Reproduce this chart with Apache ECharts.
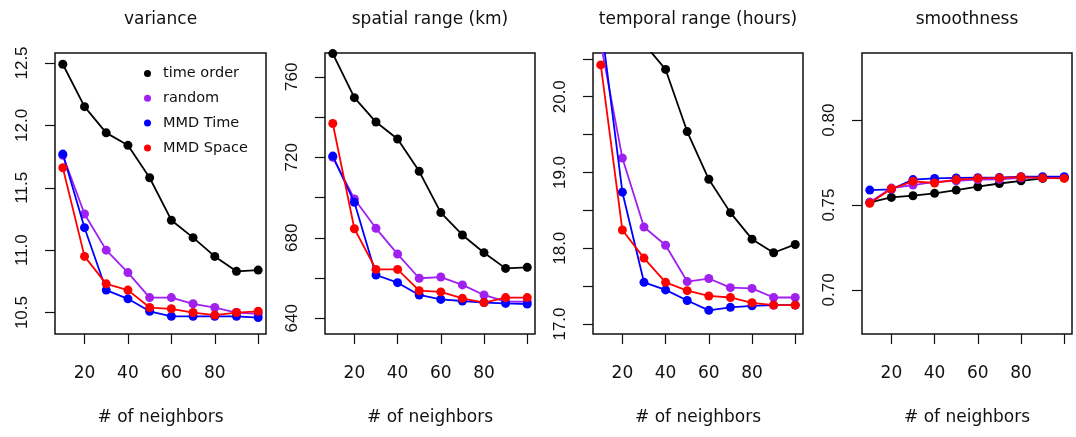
<!DOCTYPE html>
<html><head><meta charset="utf-8">
<script src="https://cdn.jsdelivr.net/npm/echarts@6/dist/echarts.min.js"></script>
<style>html,body{margin:0;padding:0;background:#fff}#c{width:1076px;height:437px}</style>
</head><body><div id="c"></div>
<script>
// ---- data ----
const neighbors = [10, 20, 30, 40, 50, 60, 70, 80, 90, 100];
const seriesNames = ['time order', 'random', 'MMD Time', 'MMD Space'];
const panelTitles = ['variance', 'spatial range (km)', 'temporal range (hours)', 'smoothness'];
const xAxisName = '# of neighbors';
const xTickValues = [20, 40, 60, 80, 100];
const xLabelValues = [20, 40, 60, 80];

const varianceTime   = [12.49, 12.15, 11.94, 11.84, 11.58, 11.24, 11.10, 10.95, 10.83, 10.84];
const varianceRandom = [11.76, 11.29, 11.00, 10.82, 10.62, 10.62, 10.57, 10.54, 10.50, 10.49];
const varianceMmdTime  = [11.77, 11.18, 10.68, 10.61, 10.51, 10.47, 10.47, 10.47, 10.47, 10.46];
const varianceMmdSpace = [11.66, 10.95, 10.73, 10.68, 10.54, 10.53, 10.50, 10.48, 10.50, 10.51];

const spatialTime   = [771.5, 749.6, 737.5, 729.1, 713.0, 692.5, 681.4, 672.6, 664.8, 665.3];
const spatialRandom = [720.0, 699.3, 684.7, 671.9, 659.9, 660.5, 656.6, 651.6, 648.3, 648.3];
const spatialMmdTime  = [720.6, 697.6, 661.5, 657.7, 651.6, 649.4, 648.6, 647.8, 647.4, 647.1];
const spatialMmdSpace = [736.8, 684.5, 664.3, 664.3, 653.7, 653.1, 649.9, 647.8, 650.3, 650.3];

const temporalTime   = [21.6, 21.0, 20.70, 20.36, 19.54, 18.91, 18.47, 18.12, 17.94, 18.05];
const temporalRandom = [20.7, 19.19, 18.28, 18.04, 17.56, 17.60, 17.48, 17.47, 17.35, 17.35];
const temporalMmdTime  = [21.0, 18.74, 17.55, 17.45, 17.31, 17.18, 17.22, 17.24, 17.25, 17.25];
const temporalMmdSpace = [20.42, 18.24, 17.87, 17.55, 17.44, 17.37, 17.35, 17.28, 17.25, 17.25];

const smoothTime   = [0.7516, 0.7545, 0.7555, 0.7569, 0.7588, 0.7608, 0.7627, 0.7643, 0.7657, 0.7661];
const smoothRandom = [0.7516, 0.7600, 0.7618, 0.7637, 0.7643, 0.7650, 0.7652, 0.7660, 0.7662, 0.7662];
const smoothMmdTime  = [0.7588, 0.7592, 0.7650, 0.7657, 0.7660, 0.7661, 0.7662, 0.7667, 0.7667, 0.7667];
const smoothMmdSpace = [0.7510, 0.7596, 0.7640, 0.7630, 0.7650, 0.7657, 0.7660, 0.7665, 0.7660, 0.7657];

const yTickValues = [
  [10.5, 11.0, 11.5, 12.0, 12.5],
  [640, 660, 680, 700, 720, 740, 760],
  [17.0, 17.5, 18.0, 18.5, 19.0, 19.5, 20.0, 20.5],
  [0.70, 0.75, 0.80]
];
const yLabelValues = [
  [10.5, 11.0, 11.5, 12.0, 12.5],
  [640, 680, 720, 760],
  [17.0, 18.0, 19.0, 20.0],
  [0.70, 0.75, 0.80]
];
const yDecimals = [1, 0, 1, 2];

// ---- layout / style ----
const panelData = [
  [varianceTime, varianceRandom, varianceMmdTime, varianceMmdSpace],
  [spatialTime, spatialRandom, spatialMmdTime, spatialMmdSpace],
  [temporalTime, temporalRandom, temporalMmdTime, temporalMmdSpace],
  [smoothTime, smoothRandom, smoothMmdTime, smoothMmdSpace]
];
const yRanges = [[10.328, 12.58], [632.2, 771.8], [16.868, 20.577], [0.674, 0.8396]];
const colors = ['#000000', '#a020f0', '#0000ff', '#ff0000'];
const gridLefts = [55, 325, 593, 862];
const gridWidths = [211, 210, 210, 210];
const gridTop = 53, gridHeight = 281;
const ink = '#111';
const hFont = 'DejaVu Sans';
const vFont = 'Liberation Sans';

const grids = [], xAxes = [], yAxes = [], titles = [], series = [];
for (let i = 0; i < 4; i++) {
  grids.push({left: gridLefts[i], width: gridWidths[i], top: gridTop, height: gridHeight,
    show: true, borderColor: ink, borderWidth: 1.5, backgroundColor: 'transparent', outerBoundsMode: 'none'});
  titles.push({text: panelTitles[i], left: gridLefts[i] + gridWidths[i] / 2, top: 11, padding: 0,
    textAlign: 'center',
    textStyle: {fontFamily: hFont, fontSize: 17, fontWeight: 'normal', color: ink}});
  xAxes.push({type: 'value', gridIndex: i, min: 6.4, max: 103.6,
    axisLine: {show: false}, splitLine: {show: false},
    axisTick: {show: true, length: 10, customValues: xTickValues, lineStyle: {color: ink, width: 1.2}},
    axisLabel: {customValues: xLabelValues, margin: 31, fontFamily: hFont, fontSize: 17, color: ink},
    name: xAxisName, nameLocation: 'middle', nameGap: 75,
    nameTextStyle: {fontFamily: hFont, fontSize: 17, color: ink}});
  const d = yDecimals[i];
  yAxes.push({type: 'value', gridIndex: i, min: yRanges[i][0], max: yRanges[i][1],
    axisLine: {show: false}, splitLine: {show: false},
    axisTick: {show: true, length: 10, customValues: yTickValues[i], lineStyle: {color: ink, width: 1.2}},
    axisLabel: {customValues: yLabelValues[i], rotate: 90, margin: 24, fontFamily: vFont, fontSize: 17, color: ink,
      formatter: v => Number(v).toFixed(d)}});
  for (let s = 0; s < 4; s++) {
    series.push({type: 'line', name: seriesNames[s], xAxisIndex: i, yAxisIndex: i,
      data: neighbors.map((x, k) => [x, panelData[i][s][k]]),
      symbol: 'circle', symbolSize: 9, showSymbol: true, clip: true,
      lineStyle: {color: colors[s], width: 1.8}, itemStyle: {color: colors[s]},
      emphasis: {disabled: true}, z: 2 + s});
  }
}

const chart = echarts.init(document.getElementById('c'), null, {renderer: 'canvas'});
chart.setOption({
  animation: false,
  backgroundColor: '#fff',
  title: titles,
  grid: grids,
  xAxis: xAxes,
  yAxis: yAxes,
  legend: {data: seriesNames, orient: 'vertical', left: 144, top: 66, padding: 0,
    itemWidth: 21, itemHeight: 7, itemGap: 9.8, icon: 'circle', selectedMode: false,
    textStyle: {fontFamily: hFont, fontSize: 14.5, color: ink, lineHeight: 14}},
  series: series
});
</script></body></html>
